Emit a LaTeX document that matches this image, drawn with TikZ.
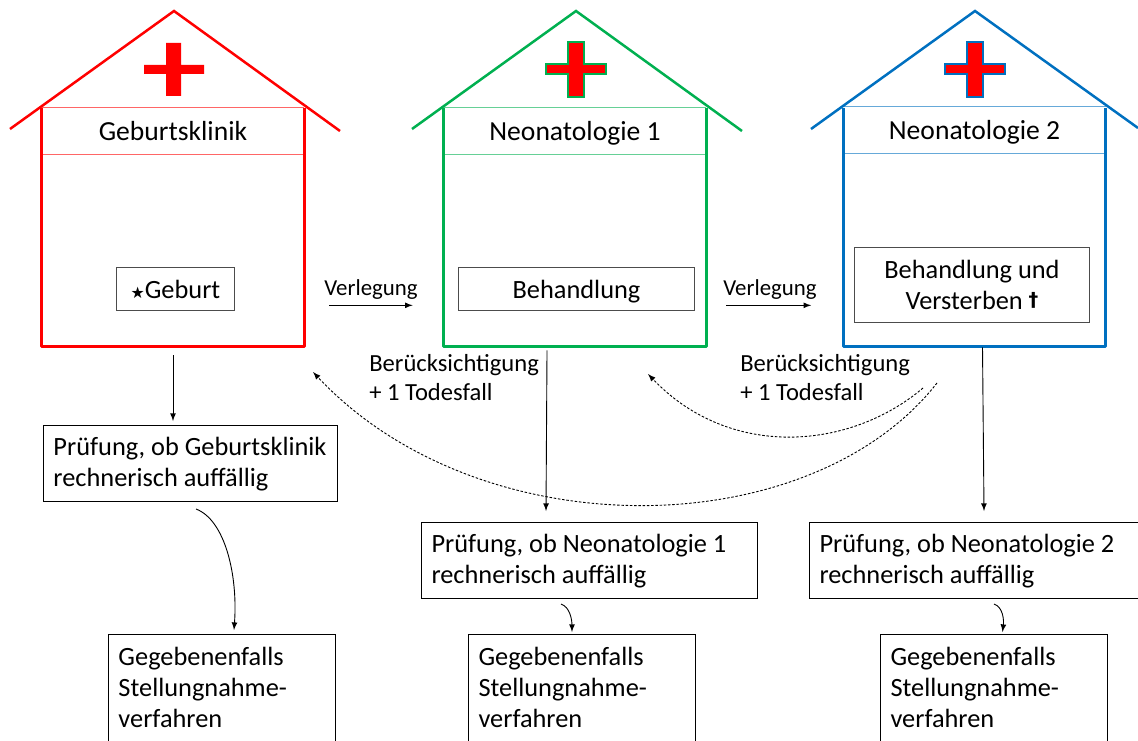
\documentclass[tikz,border=0pt]{standalone}
\usepackage{fontspec}
\setmainfont{Carlito}
\newfontfamily\symbolfont{DejaVu Sans}
\definecolor{hausrot}{RGB}{255,0,0}
\definecolor{hausgruen}{RGB}{0,176,80}
\definecolor{hausblau}{RGB}{0,112,192}
\tikzset{
    >=latex,
    haus/.style = {minimum width = 5.24cm, minimum height = 4.76cm, inner sep = 0pt},
    wand/.style = {line width = 0.055cm, line join = round},
    dach/.style = {line width = 0.05cm},
    kopf/.style = {minimum width = 5.24cm, minimum height = 0.92cm, inner sep = 0pt, text depth = 0pt, font = \fontsize{15.7}{18}\selectfont},
    kopflinie/.style = {line width = 0.02cm},
    kasten/.style = {draw = black!70, line width = 0.02cm, align = center, font = \fontsize{15}{17.9}\selectfont},
    pruefung/.style = {draw = black, line width = 0.02cm, align = flush left, anchor = north west, inner xsep = 0.2cm, font = \fontsize{15}{17.9}\selectfont},
    auffaellig/.style = {pruefung, inner ysep = 0.23cm, text height = 0.36cm, text depth = 0.7cm},
    stellung/.style = {pruefung, text width = 4.14cm, inner ysep = 0.25cm, text height = 0.36cm, text depth = 1.65cm},
    verlegt/.style = {font = \fontsize{13}{16}\selectfont, inner sep = 0pt},
    notiz/.style = {font = \fontsize{14}{16.4}\selectfont, align = flush left, inner sep = 0pt, anchor = north west},
    pfeil/.style = {->, line width = 0.018cm},
    rueckpfeil/.style = {pfeil, dash pattern = on 0.05cm off 0.035cm}
}

\begin{document}
\begin{tikzpicture}[x = 0.02cm, y = -0.02cm]
    \clip (0,0) rectangle (1138,740);

    % Geburtsklinik
    \node [haus] (hausA) at (173,227) {};
    \node [kopf] (kopfA) at (173,131) {Geburtsklinik};
    \draw [kopflinie, hausrot!60] (kopfA.north west) -- (kopfA.north east) (kopfA.south west) -- (kopfA.south east);
    \draw [wand, hausrot] (hausA.north west) -- (hausA.south west) -- (hausA.south east) -- (hausA.north east);
    \draw [dach, hausrot] (10,129) -- (174,11) -- (340,131);
    \fill [hausrot] (166,43) rectangle (181,96) (144,65) rectangle (204,74);
    \node [kasten, minimum width = 2.38cm, minimum height = 0.88cm] (geburt) at (175.5,289) {{\symbolfont\fontsize{9}{9}\selectfont ★}Geburt};

    % Neonatologie 1
    \node [haus] (hausB) at (575,227) {};
    \node [kopf] (kopfB) at (575,131) {Neonatologie 1};
    \draw [kopflinie, hausgruen!60] (kopfB.north west) -- (kopfB.north east) (kopfB.south west) -- (kopfB.south east);
    \draw [wand, hausgruen] (hausB.north west) -- (hausB.south west) -- (hausB.south east) -- (hausB.north east);
    \draw [dach, hausgruen] (412,129) -- (576,11) -- (742,131);
    \draw [hausgruen, fill = hausrot, line width = 0.03cm] (568,42) -- (584,42) -- (584,64) -- (606,64) -- (606,74) -- (584,74) -- (584,97) -- (568,97) -- (568,74) -- (546,74) -- (546,64) -- (568,64) -- cycle;
    \node [kasten, minimum width = 4.74cm, minimum height = 0.88cm, text depth = 0pt] (behandlung) at (576.5,289) {Behandlung};

    % Neonatologie 2
    \node [haus] (hausC) at (974.5,227) {};
    \node [kopf] (kopfC) at (974.5,130) {Neonatologie 2};
    \draw [kopflinie, hausblau!60] (kopfC.north west) -- (kopfC.north east) (kopfC.south west) -- (kopfC.south east);
    \draw [wand, hausblau] (hausC.north west) -- (hausC.south west) -- (hausC.south east) -- (hausC.north east);
    \draw [dach, hausblau] (811,129) -- (975,11) -- (1138,128);
    \draw [hausblau, fill = hausrot, line width = 0.03cm] (967,42) -- (983,42) -- (983,64) -- (1005,64) -- (1005,74) -- (983,74) -- (983,97) -- (967,97) -- (967,74) -- (945,74) -- (945,64) -- (967,64) -- cycle;
    \node [kasten, minimum width = 4.72cm, minimum height = 1.5cm] (versterben) at (972,285) {Behandlung und\\Versterben \raisebox{0.06cm}{\symbolfont\fontsize{11}{11}\selectfont\bfseries †}};

    % Pruefungen
    \node [auffaellig, text width = 5.48cm] (pruefA) at (43,425) {Prüfung, ob Geburtsklinik\\rechnerisch auffällig};
    \node [auffaellig, text width = 6.32cm] (pruefB) at (421,522) {Prüfung, ob Neonatologie 1\\rechnerisch auffällig};
    \node [auffaellig, text width = 6.18cm] (pruefC) at (809,522) {Prüfung, ob Neonatologie 2\\rechnerisch auffällig};

    % Stellungnahme
    \node [stellung] (stellA) at (108,634) {Gegebenenfalls\\Stellungnahme-\\verfahren};
    \node [stellung] (stellB) at (468,634) {Gegebenenfalls\\Stellungnahme-\\verfahren};
    \node [stellung] (stellC) at (880,634) {Gegebenenfalls\\Stellungnahme-\\verfahren};

    % Verlegung
    \node [verlegt] (verlegA) at (371,290) {Verlegung};
    \node [verlegt] (verlegB) at (770,290) {Verlegung};
    \draw [pfeil] ([shift = {(25,-41)}]hausA.south east) -- ([shift = {(-31,-41)}]hausB.south west);
    \draw [pfeil] ([shift = {(20,-41)}]hausB.south east) -- ([shift = {(-32,-41)}]hausC.south west);

    \node [notiz] (notizB) at (369,354) {Berücksichtigung\\+ 1 Todesfall};
    \node [notiz] (notizC) at (740,354) {Berücksichtigung\\+ 1 Todesfall};

    \draw [pfeil] ([yshift = -0.18cm]hausA.south) -- ([yshift = 0.08cm]hausA.south |- pruefA.north);
    \draw [pfeil] ([xshift = -0.56cm]hausB.south) ++(0,4) -- ([shift = {(-29,-11)}]hausB.south |- pruefB.north);
    \draw [pfeil] ([xshift = 0.16cm]hausC.south) ++(0,1) -- ([shift = {(9.5,-11)}]hausC.south |- pruefC.north);

    \coordinate (startA) at (196,509);
    \coordinate (startB) at (561,604);
    \coordinate (startC) at (994,604);
    \draw [pfeil] (startA) .. controls (225,520) and (238,575) .. ([shift = {(12,-4)}]stellA.north);
    \draw [pfeil] (startB) .. controls (570,607) and (572,620) .. ([shift = {(-10,-2)}]stellB.north);
    \draw [pfeil] (startC) .. controls (1003,607) and (1004,620) .. ([shift = {(8.5,-2)}]stellC.north);

    \coordinate (rueckA) at (923,388);
    \coordinate (rueckB) at (937,383);
    \coordinate (zielA) at (648,374);
    \coordinate (zielB) at (313,372);
    \draw [rueckpfeil] (rueckA) .. controls (850,450) and (730,460) .. (zielA);
    \draw [rueckpfeil] (rueckB) .. controls (810,545) and (480,550) .. (zielB);
\end{tikzpicture}
\end{document}
